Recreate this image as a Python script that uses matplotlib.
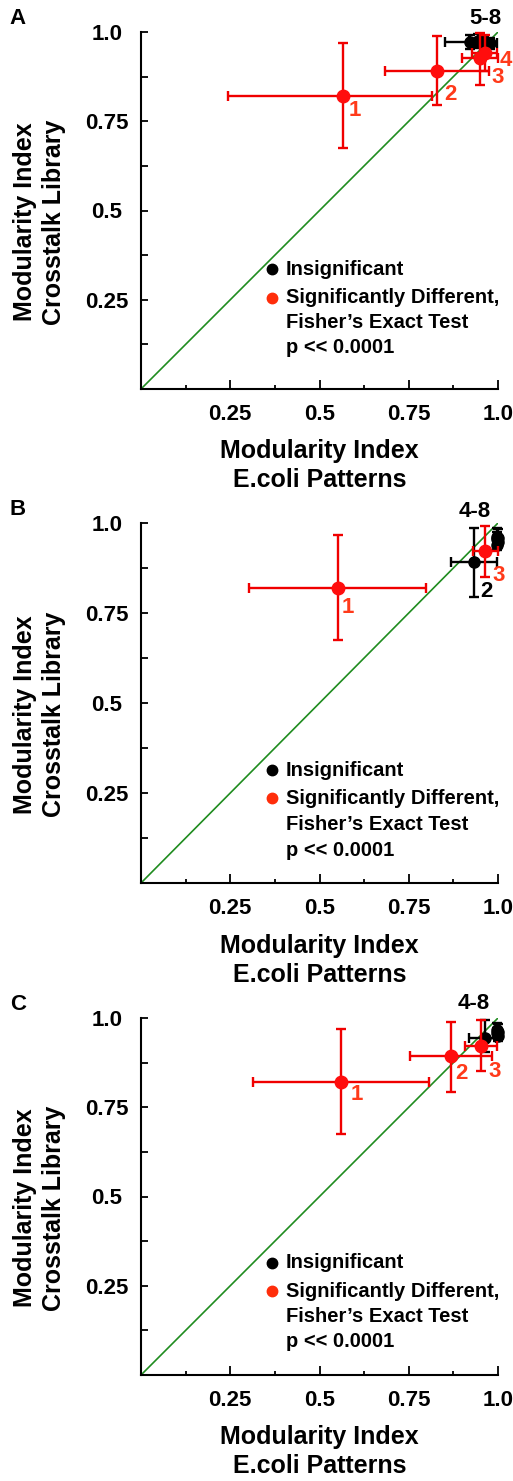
import matplotlib
matplotlib.use("Agg")
import matplotlib.pyplot as plt
from matplotlib.ticker import MultipleLocator, FixedLocator

plt.rcParams['font.family'] = ['Liberation Sans', 'DejaVu Sans']
plt.rcParams['font.weight'] = 'bold'

# ---- data ----
tick_vals = [0.25, 0.5, 0.75, 1.0]
tick_text = ['0.25', '0.5', '0.75', '1.0']

# panel A: significant (red) points 1-4
a_sig_x = [0.566, 0.829, 0.950, 0.963]
a_sig_y = [0.821, 0.891, 0.927, 0.941]
a_sig_xlo = [0.322, 0.146, 0.050, 0.035]
a_sig_xhi = [0.249, 0.146, 0.050, 0.035]
a_sig_ylo = [0.146, 0.095, 0.075, 0.050]
a_sig_yhi = [0.148, 0.098, 0.070, 0.050]
a_sig_lab = ['1', '2', '3', '4']
# panel A: insignificant (black) points 5-8
a_ins_x = [0.922, 0.945, 0.962, 0.978]
a_ins_y = [0.972, 0.975, 0.970, 0.968]
a_ins_xlo = [0.070, 0.025, 0.025, 0.020]
a_ins_xhi = [0.030, 0.025, 0.025, 0.020]
a_ins_ylo = [0.020, 0.020, 0.015, 0.015]
a_ins_yhi = [0.020, 0.020, 0.015, 0.015]
a_ins_lab = ['']
a_group = '5-8'

# panel B
b_sig_x = [0.552, 0.964]
b_sig_y = [0.819, 0.922]
b_sig_xlo = [0.249, 0.034]
b_sig_xhi = [0.246, 0.036]
b_sig_ylo = [0.145, 0.072]
b_sig_yhi = [0.148, 0.070]
b_sig_lab = ['1', '3']
b_ins_x = [0.933, 0.998, 0.997, 0.999, 0.998, 1.000]
b_ins_y = [0.891, 0.962, 0.955, 0.948, 0.940, 0.958]
b_ins_xlo = [0.065, 0.003, 0.003, 0.003, 0.003, 0.003]
b_ins_xhi = [0.064, 0.003, 0.003, 0.003, 0.003, 0.003]
b_ins_ylo = [0.097, 0.020, 0.020, 0.015, 0.015, 0.020]
b_ins_yhi = [0.095, 0.025, 0.020, 0.015, 0.015, 0.025]
b_ins_lab = ['2']
b_group = '4-8'

# panel C
c_sig_x = [0.560, 0.868, 0.952]
c_sig_y = [0.821, 0.894, 0.921]
c_sig_xlo = [0.246, 0.115, 0.044]
c_sig_xhi = [0.247, 0.115, 0.045]
c_sig_ylo = [0.146, 0.101, 0.069]
c_sig_yhi = [0.148, 0.095, 0.073]
c_sig_lab = ['1', '2', '3']
c_ins_x = [0.963, 0.997, 0.998, 0.999, 1.000]
c_ins_y = [0.944, 0.965, 0.958, 0.950, 0.962]
c_ins_xlo = [0.045, 0.004, 0.004, 0.004, 0.004]
c_ins_xhi = [0.030, 0.004, 0.004, 0.004, 0.004]
c_ins_ylo = [0.040, 0.020, 0.015, 0.015, 0.020]
c_ins_yhi = [0.050, 0.020, 0.015, 0.015, 0.020]
c_ins_lab = ['']
c_group = '4-8'

legend_text = ['Insignificant', 'Significantly Different,',
               'Fisher\u2019s Exact Test', 'p << 0.0001']

# ---- styling / layout ----
W, H = 513, 1481
RED = '#f00000'
RED_TXT = '#ff3a1a'
GREEN = '#1f8c1f'

fig = plt.figure(figsize=(W / 100, H / 100), dpi=100)


def px_axes(left, top, right, bottom):
    return fig.add_axes([left / W, 1 - bottom / H, (right - left) / W, (bottom - top) / H])


panels = [
    dict(box=(141, 32, 498, 389), letter='A', group=a_group, gpos=(0.964, 1.039),
         sig=(a_sig_x, a_sig_y, a_sig_xlo, a_sig_xhi, a_sig_ylo, a_sig_yhi, a_sig_lab),
         sig_off=[(12, -15), (13, -24), (17, -19), (21, -7)],
         ins=(a_ins_x, a_ins_y, a_ins_xlo, a_ins_xhi, a_ins_ylo, a_ins_yhi, a_ins_lab),
         ins_off=[(0, 0)], leg_y=[0.336, 0.255, 0.185, 0.115]),
    dict(box=(141, 523, 498, 883), letter='B', group=b_group, gpos=(0.936, 1.033),
         sig=(b_sig_x, b_sig_y, b_sig_xlo, b_sig_xhi, b_sig_ylo, b_sig_yhi, b_sig_lab),
         sig_off=[(10, -19), (13, -24)],
         ins=(b_ins_x, b_ins_y, b_ins_xlo, b_ins_xhi, b_ins_ylo, b_ins_yhi, b_ins_lab),
         ins_off=[(12, -29)], leg_y=[0.313, 0.235, 0.163, 0.091]),
    dict(box=(141, 1018, 498, 1375), letter='C', group=c_group, gpos=(0.933, 1.042),
         sig=(c_sig_x, c_sig_y, c_sig_xlo, c_sig_xhi, c_sig_ylo, c_sig_yhi, c_sig_lab),
         sig_off=[(16, -13), (11, -18), (14, -25)],
         ins=(c_ins_x, c_ins_y, c_ins_xlo, c_ins_xhi, c_ins_ylo, c_ins_yhi, c_ins_lab),
         ins_off=[(0, 0)], leg_y=[0.314, 0.235, 0.165, 0.095]),
]

for p in panels:
    l, t, r, b = p['box']
    ax = px_axes(l, t, r, b)
    ax.set_xlim(0, 1)
    ax.set_ylim(0, 1)
    for s in ('top', 'right'):
        ax.spines[s].set_visible(False)
    for s in ('left', 'bottom'):
        ax.spines[s].set_linewidth(1.5)

    ax.xaxis.set_major_locator(FixedLocator(tick_vals))
    ax.yaxis.set_major_locator(FixedLocator(tick_vals))
    ax.xaxis.set_minor_locator(MultipleLocator(0.125))
    ax.yaxis.set_minor_locator(MultipleLocator(0.125))
    ax.set_xticklabels(tick_text, fontsize=16, fontweight='bold')
    ax.set_yticklabels(tick_text, fontsize=16, fontweight='bold', ha='center')
    ax.tick_params(axis='x', which='major', direction='in', length=6.5, width=1.3, pad=11)
    ax.tick_params(axis='x', which='minor', direction='in', length=3, width=1.3)
    ax.tick_params(axis='y', which='both', direction='in', length=5, width=1.3, pad=24.5)

    # identity line
    ax.plot([0, 1], [0, 1], color=GREEN, lw=1.2, zorder=1)

    # insignificant points
    x, y, xlo, xhi, ylo, yhi, lab = p['ins']
    ax.errorbar(x, y, xerr=[xlo, xhi], yerr=[ylo, yhi], fmt='o', color='black',
                ms=8, elinewidth=1.7, capsize=3.5, capthick=1.7, clip_on=False, zorder=3)
    for i, s in enumerate(lab):
        if s:
            ax.annotate(s, (x[i], y[i]), xytext=p['ins_off'][i], textcoords='offset pixels',
                        ha='center', va='center', fontsize=16, fontweight='bold',
                        color='black', annotation_clip=False)

    # significant points
    x, y, xlo, xhi, ylo, yhi, lab = p['sig']
    ax.errorbar(x, y, xerr=[xlo, xhi], yerr=[ylo, yhi], fmt='o', color=RED,
                mfc='#ff0d0d', mec='#ff0d0d', ms=9, elinewidth=1.7, capsize=3.8,
                capthick=1.7, clip_on=False, zorder=4)
    for i, s in enumerate(lab):
        ax.annotate(s, (x[i], y[i]), xytext=p['sig_off'][i], textcoords='offset pixels',
                    ha='center', va='center', fontsize=16, fontweight='bold',
                    color=RED_TXT, annotation_clip=False)

    ax.text(p['gpos'][0], p['gpos'][1], p['group'], ha='center', va='center',
            fontsize=16, fontweight='bold', color='black', clip_on=False)

    # legend drawn by hand
    ly = p['leg_y']
    ax.plot([0.367], [ly[0]], 'o', color='black', ms=7.5)
    ax.plot([0.367], [ly[1]], 'o', color='#ff2d0a', ms=7.5)
    for yy, s in zip(ly, legend_text):
        ax.text(0.406, yy, s, ha='left', va='center', fontsize=14.5, fontweight='bold')

    # axis labels
    ax.text(0.5, -0.175, 'Modularity Index', transform=ax.transAxes, ha='center',
            va='center', fontsize=18, fontweight='bold')
    ax.text(0.5, -0.255, 'E.coli Patterns', transform=ax.transAxes, ha='center',
            va='center', fontsize=18, fontweight='bold')
    ax.text(-0.325, 0.468, 'Modularity Index', transform=ax.transAxes, ha='center',
            va='center', rotation=90, fontsize=18, fontweight='bold')
    ax.text(-0.245, 0.468, 'Crosstalk Library', transform=ax.transAxes, ha='center',
            va='center', rotation=90, fontsize=18, fontweight='bold')

    fig.text(18 / W, 1 - (t - 14) / H, p['letter'], ha='center', va='center',
             fontsize=16, fontweight='bold')

fig.savefig('out.png', dpi=100)
